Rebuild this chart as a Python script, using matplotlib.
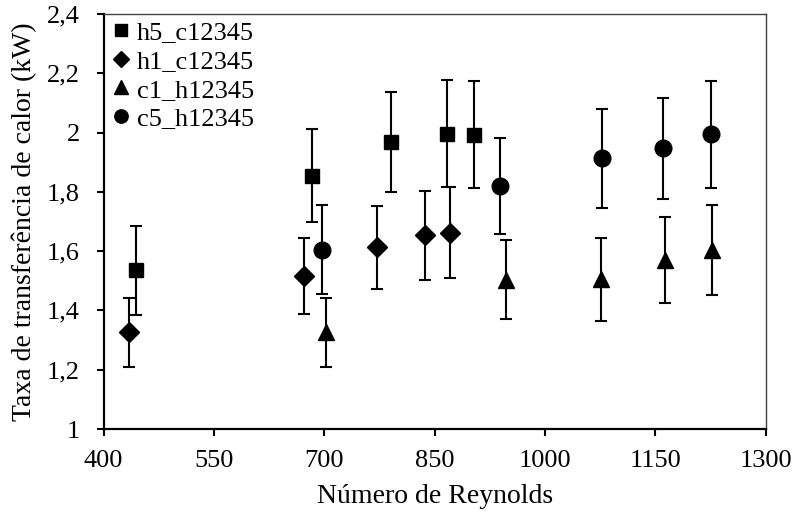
import matplotlib
matplotlib.use("Agg")
import matplotlib.pyplot as plt
from matplotlib.lines import Line2D
from matplotlib.ticker import FuncFormatter, MultipleLocator

plt.rcParams["font.family"] = ["Liberation Serif", "DejaVu Serif"]

SERIES = ["h5_c12345", "h1_c12345", "c1_h12345", "c5_h12345"]

h5_re = [444, 683, 791, 867, 903]
h5_q = [1.535, 1.855, 1.968, 1.996, 1.993]
h5_err = [0.150, 0.157, 0.168, 0.180, 0.180]

h1_re = [435, 672, 772, 837, 871]
h1_q = [1.326, 1.515, 1.613, 1.654, 1.662]
h1_err = [0.116, 0.128, 0.140, 0.150, 0.153]

c1_re = [702, 947, 1076, 1163, 1227]
c1_q = [1.326, 1.503, 1.505, 1.570, 1.604]
c1_err = [0.117, 0.133, 0.140, 0.145, 0.152]

c5_re = [697, 939, 1078, 1160, 1226]
c5_q = [1.605, 1.819, 1.913, 1.947, 1.994]
c5_err = [0.150, 0.162, 0.167, 0.171, 0.180]

X_TICKS = [400, 550, 700, 850, 1000, 1150, 1300]

DATA = {
    "h5_c12345": (h5_re, h5_q, h5_err),
    "h1_c12345": (h1_re, h1_q, h1_err),
    "c1_h12345": (c1_re, c1_q, c1_err),
    "c5_h12345": (c5_re, c5_q, c5_err),
}
MARKERS = {
    "h5_c12345": ("s", 10),
    "h1_c12345": ("D", 10.5),
    "c1_h12345": ("^", 12),
    "c5_h12345": ("o", 12),
}


def comma(v, _pos):
    return f"{v:g}".replace(".", ",")


def main():
    fig = plt.figure(figsize=(7.97, 5.12), dpi=100)
    ax = fig.add_axes([0.1299, 0.1621, 0.8308, 0.8106])

    handles = []
    for name in SERIES:
        xs, ys, err = DATA[name]
        marker, ms = MARKERS[name]
        ax.errorbar(xs, ys, yerr=err, fmt=marker, ms=ms, color="black",
                    ecolor="black", elinewidth=1.5, capsize=4.5, capthick=1.5)
        handles.append(Line2D([], [], ls="none", marker=marker, ms=ms * 0.8,
                              color="black", label=name))

    ax.set_xlim(400, 1300)
    ax.set_ylim(1, 2.4)
    ax.set_xticks(X_TICKS)
    ax.yaxis.set_major_locator(MultipleLocator(0.2))
    ax.yaxis.set_major_formatter(FuncFormatter(comma))
    ax.tick_params(direction="out", length=5, width=1.5, labelsize=19,
                   top=False, right=False)
    ax.tick_params(axis="x", pad=10)
    ax.tick_params(axis="y", pad=12)
    for side in ("left", "bottom"):
        ax.spines[side].set_linewidth(1.6)
    for side in ("top", "right"):
        ax.spines[side].set_linewidth(1.0)
        ax.spines[side].set_color("#404040")

    ax.set_xlabel("Número de Reynolds", fontsize=20, labelpad=9)
    ax.set_ylabel("Taxa de transferência de calor (kW)", fontsize=20, labelpad=7)

    ax.legend(handles=handles, loc="upper left", frameon=False, fontsize=19,
              handletextpad=0.2, handlelength=0.8, borderaxespad=0.0,
              labelspacing=0.2, borderpad=0.25, bbox_to_anchor=(0.0, 1.0))

    fig.savefig("out.png", dpi=100)
    plt.close(fig)


if __name__ == "__main__":
    main()
